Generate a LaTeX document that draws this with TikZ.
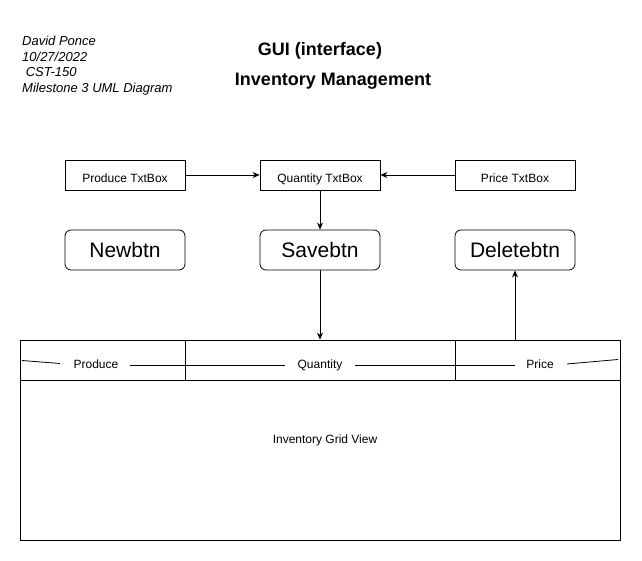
\documentclass[tikz,border=0pt]{standalone}
\usepackage{fontspec}
\setmainfont{Liberation Sans}
\usetikzlibrary{arrows.meta}
\begin{document}
\begin{tikzpicture}[x=1pt,y=-1pt,
  box/.style={draw,line width=0.8pt,minimum width=120pt,minimum height=30pt,inner sep=0pt,text height=16pt,text depth=0pt,font=\fontsize{12}{14}\selectfont},
  btn/.style={draw,line width=0.8pt,rounded corners=6pt,minimum width=120pt,minimum height=40pt,inner sep=0pt,text height=16pt,text depth=0pt,font=\fontsize{21}{25}\selectfont},
  lbl/.style={inner sep=0pt,anchor=base,font=\fontsize{12}{14}\selectfont},
  info/.style={inner sep=0pt,anchor=base west,font=\fontsize{13}{15}\selectfont\itshape},
  ttl/.style={inner sep=0pt,anchor=base,font=\fontsize{18}{21}\selectfont\bfseries},
  arr/.style={-{Stealth[length=7pt,width=6pt]},line width=0.8pt},
  ln/.style={line width=0.8pt}]
\useasboundingbox (0,0) rectangle (642,561);
% header texts
\node[info] (i1) at (22,46) {David Ponce};
\node[info] (i2) at (22,61.5) {10/27/2022};
\node[info] (i3) at (22,77) {\ CST-150};
\node[info] (i4) at (22,92.5) {Milestone 3 UML Diagram};
\node[ttl] (t1) at (320,55.5) {GUI (interface)};
\node[ttl] (t2) at (333,86) {Inventory Management};
% text boxes
\node[box] (ptb) at (125,175) {Produce TxtBox};
\node[box] (qtb) at (320,175) {Quantity TxtBox};
\node[box] (prtb) at (515,175) {Price TxtBox};
% buttons
\node[btn] (new) at (125,250) {Newbtn};
\node[btn] (save) at (320,250) {Savebtn};
\node[btn] (del) at (515,250) {Deletebtn};
% grid
\node[draw,line width=0.8pt,minimum width=600pt,minimum height=200pt,inner sep=0pt] (grid) at (320,440) {};
\node[lbl] (gv) at (325,443) {Inventory Grid View};
\coordinate (hl) at (20,380);
\coordinate (hr) at (620,380);
\draw[ln] (hl) -- (hr);
\draw[ln] (185,340) -- (185,380);
\draw[ln] (455,340) -- (455,380);
% header labels and lines
\node[lbl] (hp) at (96,368) {Produce};
\node[lbl] (hq) at (320,368) {Quantity};
\node[lbl] (hpr) at (540,368) {Price};
\draw[ln] (22,360.5) -- (60,363.5);
\draw[ln] (130,365) -- (285,365);
\draw[ln] (355,365) -- (515,365);
\draw[ln] (567,364) -- (618,359.5);
% connectors
\draw[arr] (ptb) -- (qtb);
\draw[arr] (prtb) -- (qtb);
\draw[arr] (qtb) -- (save);
\draw[arr] (save) -- (grid.north);
\draw[arr] (grid.north -| del.south) -- (del.south);
\end{tikzpicture}
\end{document}
